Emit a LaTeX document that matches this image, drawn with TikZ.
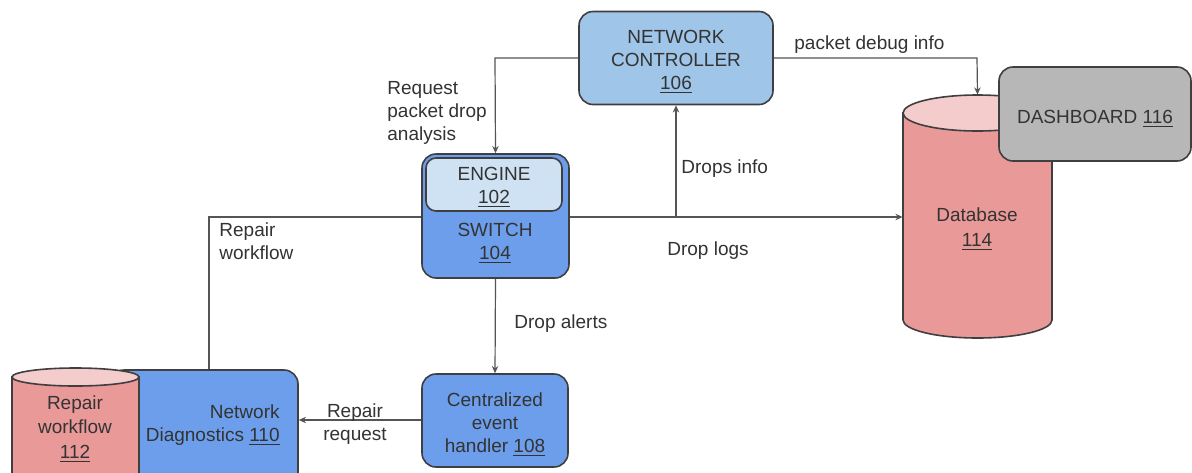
\documentclass[tikz,border=0pt]{standalone}
\usepackage{fontspec}
\setmainfont{Liberation Sans}
\usetikzlibrary{arrows.meta}

\definecolor{ink}{HTML}{333333}
\definecolor{wire}{HTML}{555555}
\definecolor{edge}{HTML}{3F3F3F}
\definecolor{ctrlblue}{HTML}{9FC5E8}
\definecolor{midblue}{HTML}{6D9EEB}
\definecolor{paleblue}{HTML}{CFE2F3}
\definecolor{dbbody}{HTML}{EA9999}
\definecolor{dbtop}{HTML}{F4CCCC}
\definecolor{dashgray}{HTML}{B7B7B7}

\tikzset{
  box/.style={draw=edge, line width=0.8pt, rounded corners=7pt, inner sep=0pt},
  lbl/.style={text=ink, font=\fontsize{9.5}{11.5}\selectfont, inner sep=0pt, yshift=-1.5pt},
  wirestyle/.style={draw=wire, line width=0.6pt},
  arr/.style={wirestyle, -{Stealth[length=3.6pt,width=3.2pt]}},
}

\begin{document}
\begin{tikzpicture}[x=0.5pt, y=-0.5pt]
\useasboundingbox (0,0) rectangle (1192,472);
\fill[white] (0,0) rectangle (1192,472);
\clip (0,0) rectangle (1192,472);

% --- network controller
\node[box, fill=ctrlblue, minimum width=97pt, minimum height=46.5pt] (nc) at (676,58) {};
\node[lbl, align=center] (nctext) at (676,59) {NETWORK\\CONTROLLER\\\underline{106}};

% --- switch with its engine
\node[box, fill=midblue, minimum width=73.5pt, minimum height=62pt] (sw) at (495.5,216) {};
\node[box, fill=paleblue, minimum width=68pt, minimum height=26.5pt, rounded corners=5pt] (eng) at (494,184.5) {};
\node[lbl, align=center] (engtext) at (494,184.5) {ENGINE\\\underline{102}};
\node[lbl, align=center] (swtext) at (495,240.5) {SWITCH\\\underline{104}};

% --- centralized event handler
\node[box, fill=midblue, minimum width=73pt, minimum height=46.5pt] (ev) at (495,420.5) {};
\node[lbl, align=center] (evtext) at (495,422) {Centralized\\event\\handler \underline{108}};

% --- network diagnostics with the repair workflow store
\node[box, fill=midblue, minimum width=94pt, minimum height=60pt] (nd) at (204,430) {};
\node[lbl, align=right, anchor=east] (ndtext) at (280,422.5) {Network\\Diagnostics \underline{110}};

\path[draw=edge, line width=0.8pt, fill=dbbody]
  (12,377) -- (12,500) -- (139,500) -- (139,377) -- cycle;
\draw[edge, line width=0.8pt, fill=dbtop] (75.5,377) ellipse [x radius=31.75pt, y radius=4.5pt];
\node[lbl, align=center, font=\fontsize{9.5}{12.3}\selectfont] (rwtext) at (75,426) {Repair\\workflow\\\underline{112}};
\node[inner sep=0pt, minimum width=63.5pt, minimum height=52pt] (rw) at (75.5,420) {};

% --- database
\path[draw=edge, line width=0.8pt, fill=dbbody]
  (903,113) -- (903,320) arc[start angle=180, end angle=360, x radius=37.25pt, y radius=9pt]
  -- (1052,113) -- cycle;
\draw[edge, line width=0.8pt, fill=dbtop] (977.5,113) ellipse [x radius=37.25pt, y radius=9pt];
\node[inner sep=0pt, minimum width=74.5pt, minimum height=121.5pt] (db) at (977.5,216.5) {};
\node[lbl, align=center, font=\fontsize{9.5}{12.5}\selectfont] (dbtext) at (977,226) {Database\\\underline{114}};

% --- dashboard
\node[box, fill=dashgray, minimum width=96pt, minimum height=47pt] (dash) at (1095,114) {};
\node[lbl] (dashtext) at (1095,116) {DASHBOARD \underline{116}};

% --- connectors
\coordinate (reqcorner) at (495,58);
\draw[arr] (nc.west |- 0,58) -- (reqcorner) -- (sw.north);

\coordinate (dbgcorner) at (977,58);
\draw[arr] (nc.east |- 0,58) -- (dbgcorner) -- (db.north);

\draw[arr] (sw.east |- 0,217) -- (db.west |- 0,217);

\coordinate (split) at (676,217);
\draw[arr] (split) -- (nc.south);

\coordinate (rwcorner) at (209,217);
\draw[wirestyle] (sw.west |- 0,217) -- (rwcorner) -- (rwcorner |- nd.north);

\draw[arr] (sw.south) -- (ev.north);

\draw[arr] (ev.west |- 0,420) -- (nd.east |- 0,420);

% --- connector labels
\node[lbl, align=left, anchor=north west] (lreq) at (387,78) {Request\\packet drop\\analysis};
\node[lbl, anchor=west] (ldbg) at (794,42) {packet debug info};
\node[lbl, anchor=west] (ldi) at (681,166) {Drops info};
\node[lbl] (llogs) at (708,248) {Drop logs};
\node[lbl, align=left, anchor=north west] (lrw) at (219,219) {Repair\\workflow};
\node[lbl, anchor=west] (lalert) at (514,321) {Drop alerts};
\node[lbl, align=center] (lrr) at (355,421.5) {Repair\\request};
\end{tikzpicture}
\end{document}
